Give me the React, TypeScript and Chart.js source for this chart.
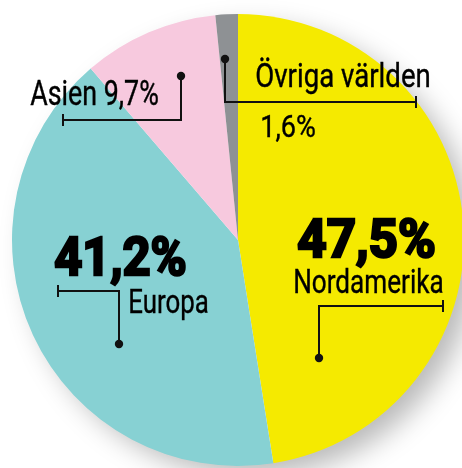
import React, { useEffect, useRef } from "react";
import { Chart, registerables } from "chart.js";

Chart.register(...registerables);

const regions = ["Nordamerika", "Europa", "Asien", "Övriga världen"];
const shares = [47.5, 41.2, 9.7, 1.6];
const shareLabels = ["47,5%", "41,2%", "9,7%", "1,6%"];
const colors = ["#F5EA00", "#87D1D3", "#F7C9DE", "#8E9194"];

const FONT = "Roboto, 'Open Sans', 'DejaVu Sans', sans-serif";

type TextItem = { text: string; x: number; y: number; w: number; size: number; bold?: boolean };
type Bracket = { dot: [number, number]; corner: [number, number]; end: [number, number] };

function fillFit(ctx: CanvasRenderingContext2D, t: TextItem) {
  ctx.save();
  ctx.font = `${t.bold ? "700" : "400"} ${t.size}px ${FONT}`;
  ctx.textBaseline = "alphabetic";
  ctx.textAlign = "left";
  const stroke = t.bold ? 2.6 : 0.4;
  const m = ctx.measureText(t.text).width + stroke;
  ctx.translate(t.x + stroke / 2, t.y);
  ctx.scale((t.w - stroke) / (m - stroke), 1);
  ctx.fillStyle = "#000";
  ctx.strokeStyle = "#000";
  ctx.lineJoin = "miter";
  ctx.lineWidth = stroke;
  ctx.fillText(t.text, 0, 0);
  ctx.strokeText(t.text, 0, 0);
  ctx.restore();
}

function drawBracket(ctx: CanvasRenderingContext2D, b: Bracket) {
  ctx.save();
  ctx.strokeStyle = "#111";
  ctx.fillStyle = "#111";
  ctx.lineWidth = 2;
  ctx.beginPath();
  ctx.moveTo(b.dot[0], b.dot[1]);
  ctx.lineTo(b.corner[0], b.corner[1]);
  ctx.lineTo(b.end[0], b.end[1]);
  ctx.stroke();
  ctx.beginPath();
  ctx.moveTo(b.end[0], b.end[1] - 6);
  ctx.lineTo(b.end[0], b.end[1] + 6);
  ctx.stroke();
  ctx.beginPath();
  ctx.arc(b.dot[0], b.dot[1], 4.2, 0, Math.PI * 2);
  ctx.fill();
  ctx.restore();
}

export default function App() {
  const ref = useRef<HTMLCanvasElement | null>(null);
  useEffect(() => {
    document.body.style.margin = "0";
    const canvas = ref.current!;
    const shadowPlugin = {
      id: "pieShadow",
      beforeDatasetsDraw(chart: any) {
        const arc = chart.getDatasetMeta(0).data[0];
        if (!arc) return;
        const ctx = chart.ctx as CanvasRenderingContext2D;
        ctx.save();
        ctx.shadowColor = "rgba(0,0,0,0.28)";
        ctx.shadowBlur = 28;
        ctx.shadowOffsetX = 14;
        ctx.shadowOffsetY = 12;
        ctx.fillStyle = "#fff";
        ctx.beginPath();
        ctx.arc(arc.x, arc.y, arc.outerRadius - 2, 0, Math.PI * 2);
        ctx.fill();
        ctx.restore();
      },
    };
    const labelPlugin = {
      id: "labels",
      afterDatasetsDraw(chart: any) {
        const ctx = chart.ctx as CanvasRenderingContext2D;
        const brackets: Bracket[] = [
          { dot: [319, 358], corner: [319, 306], end: [443, 306] },
          { dot: [119, 344], corner: [119, 291], end: [58, 291] },
          { dot: [181, 76], corner: [181, 120], end: [63, 120] },
          { dot: [225, 59], corner: [225, 102], end: [416, 102] },
        ];
        brackets.forEach((b) => drawBracket(ctx, b));
        const texts: TextItem[] = [
          { text: shareLabels[0], x: 296, y: 257, w: 141, size: 53, bold: true },
          { text: regions[0], x: 293, y: 293, w: 151, size: 34 },
          { text: shareLabels[1], x: 53, y: 275, w: 135, size: 54, bold: true },
          { text: regions[1], x: 128, y: 313, w: 81, size: 34 },
          { text: `${regions[2]} ${shareLabels[2]}`, x: 30, y: 105, w: 129, size: 35 },
          { text: regions[3], x: 255, y: 87, w: 176, size: 33 },
          { text: shareLabels[3], x: 260, y: 137, w: 56, size: 32 },
        ];
        texts.forEach((t) => fillFit(ctx, t));
      },
    };
    const chart = new Chart(canvas, {
      type: "pie",
      data: {
        labels: regions,
        datasets: [
          {
            data: shares,
            backgroundColor: colors,
            borderWidth: 0,
            hoverBorderWidth: 0,
            offset: 0,
            hoverOffset: 0,
          },
        ],
      },
      options: {
        animation: false,
        responsive: false,
        events: [],
        layout: { padding: { left: 12, right: 12, top: 14, bottom: 2 } },
        plugins: { legend: { display: false }, tooltip: { enabled: false } },
      },
      plugins: [shadowPlugin, labelPlugin],
    });
    return () => chart.destroy();
  }, []);
  return (
    <div style={{ position: "relative", width: 462, height: 468, overflow: "hidden", background: "#fff" }}>
      <canvas ref={ref} width={476} height={468} style={{ width: 476, height: 468, display: "block" }} />
    </div>
  );
}
